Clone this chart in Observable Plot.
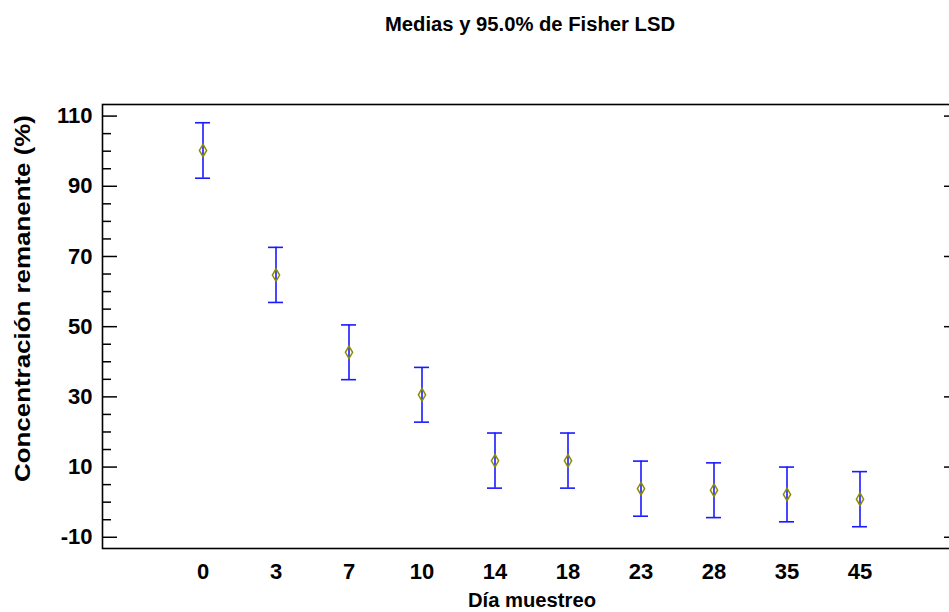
<!DOCTYPE html>
<html><head><meta charset="utf-8">
<script src="https://cdn.jsdelivr.net/npm/d3@7"></script>
<script src="https://cdn.jsdelivr.net/npm/@observablehq/plot@0.6"></script>
<style>html,body{margin:0;background:#fff;overflow:hidden;} #chart{width:949px;height:612px;overflow:hidden;} #chart svg{display:block;max-width:none !important;width:953px;height:612px;}</style>
</head><body><div id="chart"></div>
<script>
const days  = ["0","3","7","10","14","18","23","28","35","45"];
const means = [100.2, 64.7, 42.7, 30.6, 11.8, 11.8, 3.85, 3.4, 2.2, 0.85];
const upper = [108.1, 72.6, 50.5, 38.4, 19.7, 19.7, 11.7, 11.2, 10.0, 8.7];
const lower = [92.3, 56.9, 34.9, 22.8, 4.0, 4.0, -4.0, -4.4, -5.6, -7.0];
const yMajorTicks = [-10, 10, 30, 50, 70, 90, 110];
const yMinorTicks = [-5, 0, 5, 15, 20, 25, 35, 40, 45, 55, 60, 65, 75, 80, 85, 95, 100, 105];
const titleText = "Medias y 95.0% de Fisher LSD";
const xTitle = "Día muestreo";
const yTitle = "Concentración remanente (%)";

const data = days.map((d, i) => ({day: d, mean: means[i], hi: upper[i], lo: lower[i]}));
const FONT = "'Liberation Sans', Arial, Helvetica, sans-serif";
const barColor = "#1a1aff";

const chart = Plot.plot({
  width: 953,
  height: 612,
  marginTop: 104,
  marginBottom: 64,
  marginLeft: 102,
  marginRight: 0,
  style: {fontFamily: FONT, fontWeight: "bold", fontSize: "22px", color: "#000", background: "#fff", maxWidth: "none"},
  x: {type: "band", domain: days, paddingInner: 0.795, paddingOuter: 1.2025, align: 0.519, axis: null},
  y: {domain: [-13.2, 113.3], axis: null},
  marks: [
    Plot.axisY(yMinorTicks, {anchor: "left", tickSize: -9, fill: "none", label: null, strokeWidth: 1.5}),
    Plot.axisY(yMajorTicks, {anchor: "left", tickSize: -15, fill: "none", label: null, strokeWidth: 1.5}),
    Plot.axisY(yMajorTicks, {anchor: "left", tickSize: 0, tickPadding: 10, label: null, fontSize: 22, tickFormat: d => String(d)}),
    Plot.axisY(yMajorTicks, {anchor: "right", tickSize: -10, fill: "none", label: null, strokeWidth: 1.5}),
    Plot.axisX({anchor: "bottom", tickSize: 0, tickPadding: 15, label: null, fontSize: 22}),
    Plot.frame({stroke: "#000", strokeWidth: 1.6}),
    Plot.ruleX(data, {x: "day", y1: "lo", y2: "hi", stroke: barColor, strokeWidth: 1.6}),
    Plot.tickY(data, {x: "day", y: "hi", stroke: barColor, strokeWidth: 1.6}),
    Plot.tickY(data, {x: "day", y: "lo", stroke: barColor, strokeWidth: 1.6}),
    Plot.dot(data, {x: "day", y: "mean", symbol: "diamond", r: 3.8, stroke: "#8c8c00", strokeWidth: 1.5, fill: "none"})
  ]
});

const svg = d3.select(chart);
svg.append("text").text(titleText)
  .attr("x", 530).attr("y", 31).attr("text-anchor", "middle")
  .attr("font-size", 20).attr("font-weight", "bold").attr("font-family", FONT)
  .attr("textLength", 290).attr("lengthAdjust", "spacingAndGlyphs").attr("fill", "#000");
svg.append("text").text(xTitle)
  .attr("x", 532).attr("y", 607).attr("text-anchor", "middle")
  .attr("font-size", 20).attr("font-weight", "bold").attr("font-family", FONT)
  .attr("textLength", 128).attr("lengthAdjust", "spacingAndGlyphs").attr("fill", "#000");
svg.append("text").text(yTitle)
  .attr("transform", "translate(30,298.5) rotate(-90)").attr("text-anchor", "middle")
  .attr("font-size", 22).attr("font-weight", "bold").attr("font-family", FONT)
  .attr("textLength", 367).attr("lengthAdjust", "spacingAndGlyphs").attr("fill", "#000");

document.getElementById("chart").appendChild(chart);
</script>
</body></html>
